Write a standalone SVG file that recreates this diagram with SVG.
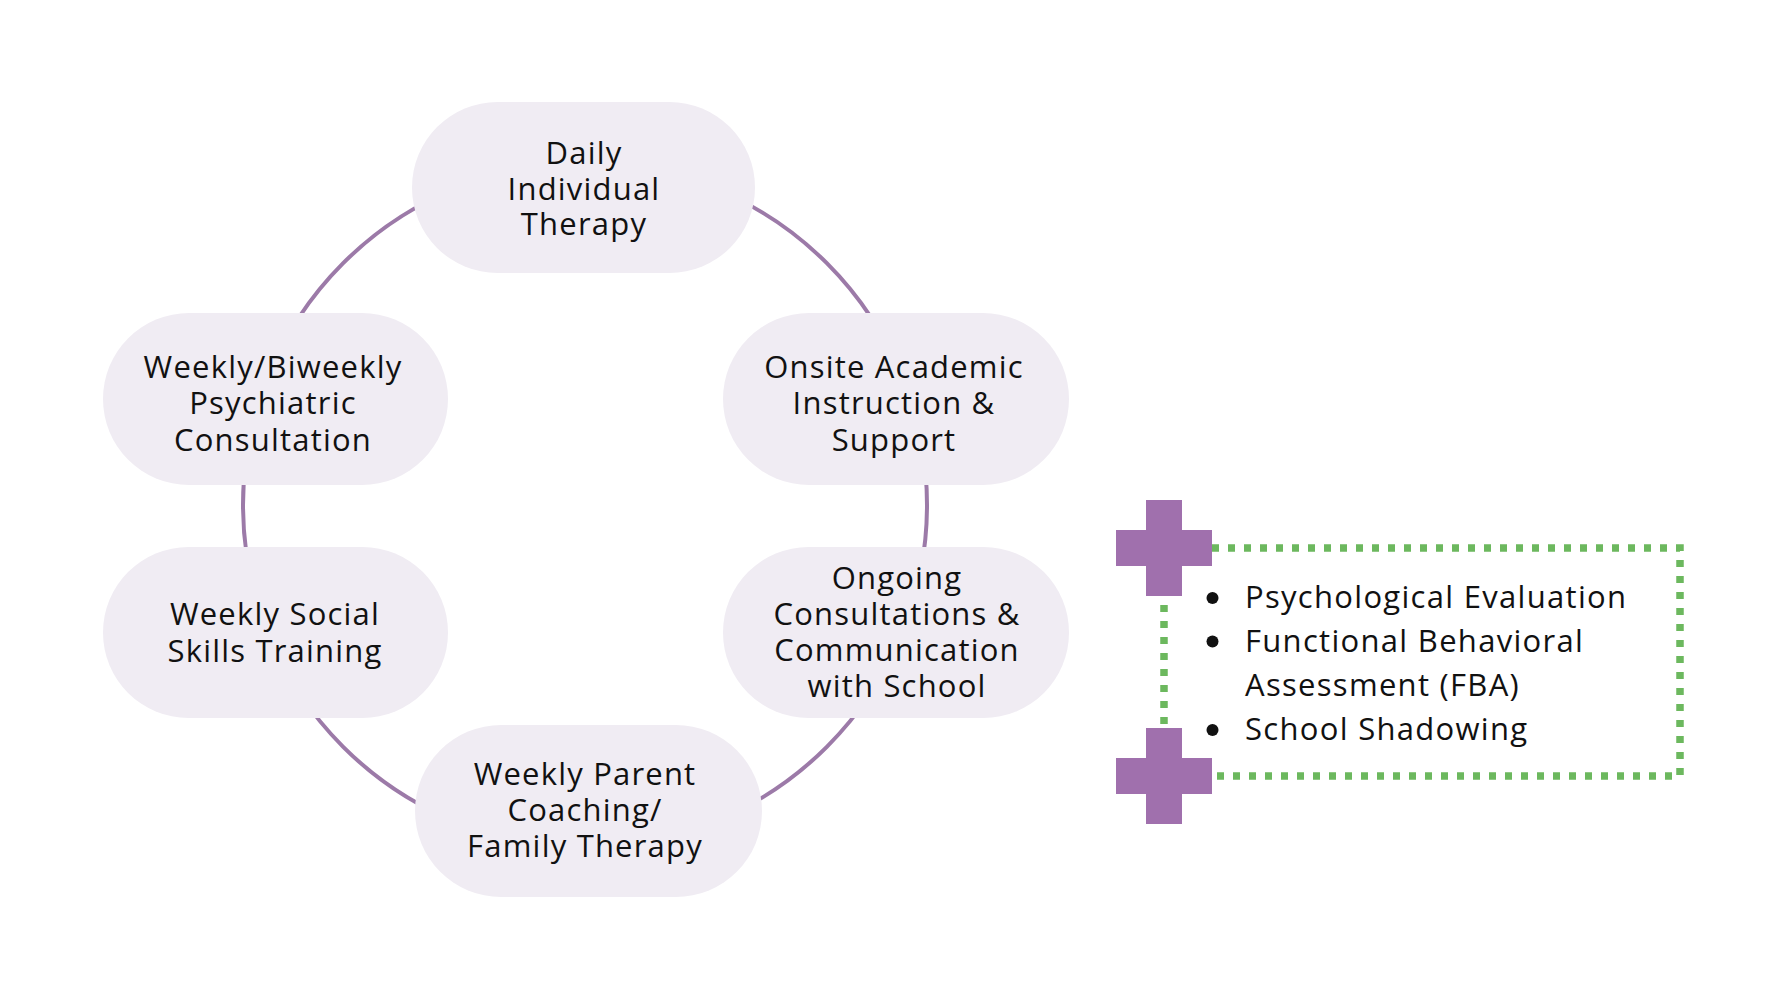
<svg xmlns="http://www.w3.org/2000/svg" width="1788" height="998" viewBox="0 0 1788 998">
<style>
.pill{fill:#f0ecf3;}
.lbl{font-family:"Open Sans","Noto Sans","Liberation Sans",sans-serif;font-size:31px;fill:#111111;text-anchor:middle;letter-spacing:1.2px;}
.item{font-family:"Open Sans","Noto Sans","Liberation Sans",sans-serif;font-size:31px;fill:#111111;letter-spacing:1.3px;}
.cross{fill:#a070ad;}
.dot{fill:#111;}
</style>
<rect width="1788" height="998" fill="#ffffff"/>
<g id="connectors">
<circle cx="585" cy="505" r="342" fill="none" stroke="#9c7aa8" stroke-width="4"/>
</g>
<g id="node-daily">
<rect class="pill" x="412" y="102" width="343" height="171" rx="85.5"/>
<text class="lbl" x="584" y="164">Daily</text>
<text class="lbl" x="584" y="199.5">Individual</text>
<text class="lbl" x="584" y="235">Therapy</text>
</g>
<g id="node-psychiatric">
<rect class="pill" x="103" y="313" width="345" height="172" rx="86"/>
<text class="lbl" x="273" y="378">Weekly/Biweekly</text>
<text class="lbl" x="273" y="414">Psychiatric</text>
<text class="lbl" x="273" y="451">Consultation</text>
</g>
<g id="node-social">
<rect class="pill" x="103" y="547" width="345" height="171" rx="85.5"/>
<text class="lbl" x="275" y="625">Weekly Social</text>
<text class="lbl" x="275" y="662">Skills Training</text>
</g>
<g id="node-academic">
<rect class="pill" x="723" y="313" width="346" height="172" rx="86"/>
<text class="lbl" x="894" y="378">Onsite Academic</text>
<text class="lbl" x="894" y="414">Instruction &amp;</text>
<text class="lbl" x="894" y="451">Support</text>
</g>
<g id="node-school">
<rect class="pill" x="723" y="547" width="346" height="171" rx="85.5"/>
<text class="lbl" x="897" y="589">Ongoing</text>
<text class="lbl" x="897" y="625">Consultations &amp;</text>
<text class="lbl" x="897" y="661">Communication</text>
<text class="lbl" x="897" y="697">with School</text>
</g>
<g id="node-parent">
<rect class="pill" x="415" y="725" width="347" height="172" rx="86"/>
<text class="lbl" x="585" y="785">Weekly Parent</text>
<text class="lbl" x="585" y="821">Coaching/</text>
<text class="lbl" x="585" y="857">Family Therapy</text>
</g>
<g id="node-additional">
<path d="M1164 548 H1680 V776 H1164 Z" fill="none" stroke="#6cb85e" stroke-width="7.5" stroke-dasharray="7 9"/>
<path class="cross" d="M1146 500 H1182 V530 H1212 V566 H1182 V596 H1146 V566 H1116 V530 H1146 Z"/>
<path class="cross" d="M1146 728 H1182 V758 H1212 V794 H1182 V824 H1146 V794 H1116 V758 H1146 Z"/>
<circle class="dot" cx="1212.5" cy="598" r="6"/>
<circle class="dot" cx="1212.5" cy="641.5" r="6"/>
<circle class="dot" cx="1212.5" cy="730" r="6"/>
<text class="item" x="1245" y="608">Psychological Evaluation</text>
<text class="item" x="1245" y="652">Functional Behavioral</text>
<text class="item" x="1245" y="696">Assessment (FBA)</text>
<text class="item" x="1245" y="740">School Shadowing</text>
</g>
</svg>
